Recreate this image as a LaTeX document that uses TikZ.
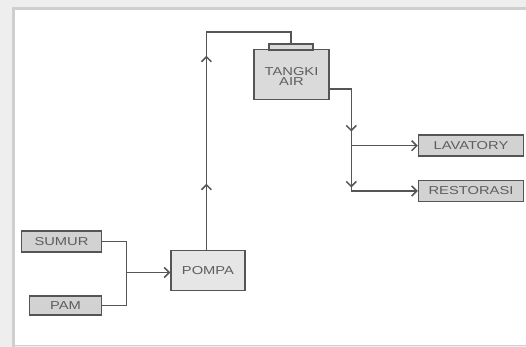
\documentclass[tikz,border=0pt]{standalone}
\usepackage{fontspec}
\newfontfamily\boxfont[FakeStretch=1.28]{Liberation Sans}
\usetikzlibrary{arrows.meta,decorations.markings}
\definecolor{garisAbu}{HTML}{555555}
\definecolor{teksAbu}{HTML}{5E5E5E}
\definecolor{isiGelap}{HTML}{D2D2D2}
\definecolor{isiTangki}{HTML}{DADADA}
\definecolor{isiTerang}{HTML}{E6E6E6}
\definecolor{bingkai}{HTML}{CFCFCF}
\definecolor{latar}{HTML}{EEEEEE}

\begin{document}
\begin{tikzpicture}[x=1pt, y=-1pt,
    every node/.style={align=center, font=\boxfont\fontsize{11.5}{12}\selectfont, text=teksAbu},
    kotak/.style={draw=garisAbu, line width=1.5pt, inner sep=0pt},
    alir/.style={draw=garisAbu, line width=1.5pt},
    ujung/.tip={Straight Barb[length=5pt,width=10pt,line width=1.5pt]},
    panah/.style={-ujung}]
    % latar dan bingkai
    \useasboundingbox (0,0) rectangle (526,347);
    \fill[latar] (0,0) rectangle (526,347);
    \fill[white] (13.5,8.5) rectangle (526,344.5);
    \draw[bingkai, line width=3pt] (13.5,347) -- (13.5,8.5) -- (526,8.5);
    \draw[bingkai, line width=1pt] (13.5,345) -- (526,345);
    % kotak-kotak
    \node[kotak, fill=isiGelap, minimum width=80, minimum height=21] (sumur) at (61.5,241.5) {SUMUR};
    \node[kotak, fill=isiGelap, minimum width=72, minimum height=19] (pam) at (65.5,305.5) {PAM};
    \node[kotak, fill=isiTerang, minimum width=74, minimum height=40] (pompa) at (208,270.5) {POMPA};
    \node[kotak, fill=isiTangki, minimum width=75, minimum height=50] (tangki) at (291.5,74.7) {};
    \node at (291.5,76) {TANGKI\\[-2pt]AIR};
    \node[kotak, fill=isiTangki, minimum width=44, minimum height=6] (tutup) at (291,47) {};
    \node[kotak, fill=isiGelap, minimum width=105, minimum height=21] (lavatory) at (471,145.7) {LAVATORY};
    \node[kotak, fill=isiGelap, minimum width=105, minimum height=21] (restorasi) at (471,191) {RESTORASI};
    % titik bantu
    \coordinate (gabung) at (126.5,272.5);
    \coordinate (atas) at (206.4,32);
    \coordinate (turun) at (351.3,89);
    \coordinate (cabang) at (351.3,145.7);
    % aliran masuk pompa
    \draw[alir] (sumur.east) -| (gabung) |- (pam.east);
    \draw[alir, panah] (gabung) -- (pompa.west |- gabung);
    % pompa ke tangki
    \draw[alir, postaction={decorate, decoration={markings,
        mark=at position 66pt with {\arrow{ujung}},
        mark=at position 194pt with {\arrow{ujung}}}}]
      (pompa.north -| atas) -- (atas) -| (tutup.north);
    % tangki ke pemakai
    \draw[alir, panah, postaction={decorate, decoration={markings,
        mark=at position 64pt with {\arrow{ujung}},
        mark=at position 120pt with {\arrow{ujung}}}}]
      (tangki.east |- turun) -- (turun) |- (restorasi.west);
    \draw[alir, panah] (cabang) -- (lavatory.west);
  \end{tikzpicture}
\end{document}
